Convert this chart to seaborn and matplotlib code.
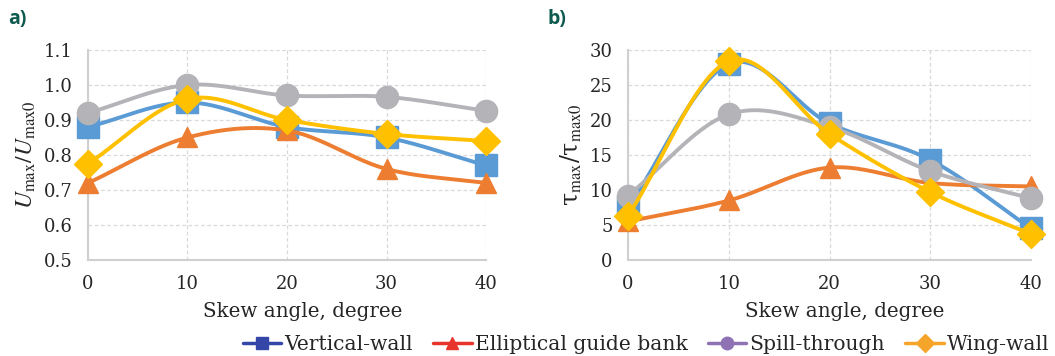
import numpy as np
import pandas as pd
import matplotlib
matplotlib.use("Agg")
import matplotlib.pyplot as plt
from matplotlib.lines import Line2D
import seaborn as sns

# Skew angles (degrees)
angles = [0, 10, 20, 30, 40]
series_names = ["Vertical-wall", "Elliptical guide bank", "Spill-through", "Wing-wall"]

# a) Normalised maximum velocity U_max / U_max0
u_vertical = [0.88, 0.95, 0.88, 0.85, 0.77]
u_elliptical = [0.72, 0.85, 0.87, 0.76, 0.72]
u_spill = [0.92, 1.00, 0.97, 0.966, 0.926]
u_wing = [0.775, 0.96, 0.90, 0.86, 0.84]

# b) Normalised maximum shear stress tau_max / tau_max0
t_vertical = [7.5, 28.0, 19.5, 14.3, 4.5]
t_elliptical = [5.5, 8.5, 13.2, 11.0, 10.5]
t_spill = [9.2, 20.8, 19.0, 12.7, 8.8]
t_wing = [6.3, 28.4, 18.0, 9.7, 3.7]

line_colors = ["#5b9bd5", "#ed7d31", "#b4b4b8", "#ffc000"]
legend_colors = ["#3446a8", "#e8352b", "#8f72b4", "#f5a52a"]
markers = ["s", "^", "o", "D"]
marker_sizes = [16, 15, 16, 14]

sns.set_theme(style="white")
plt.rcParams["font.family"] = ["DejaVu Serif"]
plt.rcParams["mathtext.fontset"] = "stix"


def smooth(x, y, n=40):
    """Catmull-Rom curve through the points, like a smoothed spreadsheet line."""
    x = np.asarray(x, float)
    y = np.asarray(y, float)
    px = np.concatenate([[2 * x[0] - x[1]], x, [2 * x[-1] - x[-2]]])
    py = np.concatenate([[2 * y[0] - y[1]], y, [2 * y[-1] - y[-2]]])
    xs, ys = [], []
    t = np.linspace(0, 1, n)
    for i in range(1, len(px) - 2):
        for arr, out in ((px, xs), (py, ys)):
            p0, p1, p2, p3 = arr[i - 1], arr[i], arr[i + 1], arr[i + 2]
            seg = 0.5 * ((2 * p1) + (-p0 + p2) * t
                         + (2 * p0 - 5 * p1 + 4 * p2 - p3) * t ** 2
                         + (-p0 + 3 * p1 - 3 * p2 + p3) * t ** 3)
            out.append(seg if i == 1 else seg[1:])
    return np.concatenate(xs), np.concatenate(ys)


def draw_panel(ax, data, ylim, yticks, yfmt, ylabel, letter, label_x):
    for i, (name, vals) in enumerate(zip(series_names, data)):
        sx, sy = smooth(angles, vals)
        curve = pd.DataFrame({"x": sx, "y": sy})
        sns.lineplot(data=curve, x="x", y="y", ax=ax, sort=False,
                     color=line_colors[i], lw=2.8, zorder=3 + i, estimator=None)
        pts = pd.DataFrame({"x": angles, "y": vals})
        ax.plot(pts["x"], pts["y"], ls="none", marker=markers[i],
                ms=marker_sizes[i], color=line_colors[i], mec=line_colors[i],
                zorder=3 + i, clip_on=False)
    ax.set_xlim(0, 40)
    ax.set_ylim(*ylim)
    ax.set_xticks(angles)
    ax.set_yticks(yticks)
    ax.set_yticklabels([yfmt.format(v) for v in yticks])
    ax.grid(True, color="#d9d9d9", ls=(0, (3, 2)), lw=0.9)
    for s in ["top", "right"]:
        ax.spines[s].set_visible(False)
    for s in ["left", "bottom"]:
        ax.spines[s].set_color("#d0d0d0")
        ax.spines[s].set_linewidth(1.5)
    ax.tick_params(axis="both", length=0, labelsize=13, colors="#262626")
    ax.tick_params(axis="x", pad=11)
    ax.tick_params(axis="y", pad=11)
    ax.set_xlabel("Skew angle, degree", fontsize=14.3, color="#262626")
    ax.xaxis.set_label_coords(label_x, -0.2)
    ax.set_ylabel(ylabel, fontsize=17, color="#262626", labelpad=4)
    ax.text(-0.2, 1.1, letter, transform=ax.transAxes, fontsize=14,
            fontweight="bold", color="#0f5a4f", family="Open Sans",
            ha="left", va="bottom")


fig = plt.figure(figsize=(10.55, 3.56), dpi=100)
ax_a = fig.add_axes([0.0834, 0.2697, 0.3773, 0.5899])
ax_b = fig.add_axes([0.5953, 0.2697, 0.3820, 0.5899])

draw_panel(ax_a, [u_vertical, u_elliptical, u_spill, u_wing], (0.5, 1.1),
           [0.5, 0.6, 0.7, 0.8, 0.9, 1.0, 1.1], "{:.1f}",
           r"$U_{\mathrm{max}}/U_{\mathrm{max0}}$", "a)", 0.54)
draw_panel(ax_b, [t_vertical, t_elliptical, t_spill, t_wing], (0, 30),
           [0, 5, 10, 15, 20, 25, 30], "{:d}",
           "τ$_{\\mathrm{max}}$/τ$_{\\mathrm{max0}}$", "b)", 0.538)

handles = [Line2D([0], [0], color=c, lw=2.5, marker=m, ms=9, mec=c)
           for c, m in zip(legend_colors, markers)]
fig.legend(handles, series_names, loc="lower right", ncol=4,
           bbox_to_anchor=(1.012, -0.045), frameon=False, fontsize=14.6,
           handlelength=1.9, handletextpad=0.15, columnspacing=1.0)

fig.savefig("out.png", dpi=100)
